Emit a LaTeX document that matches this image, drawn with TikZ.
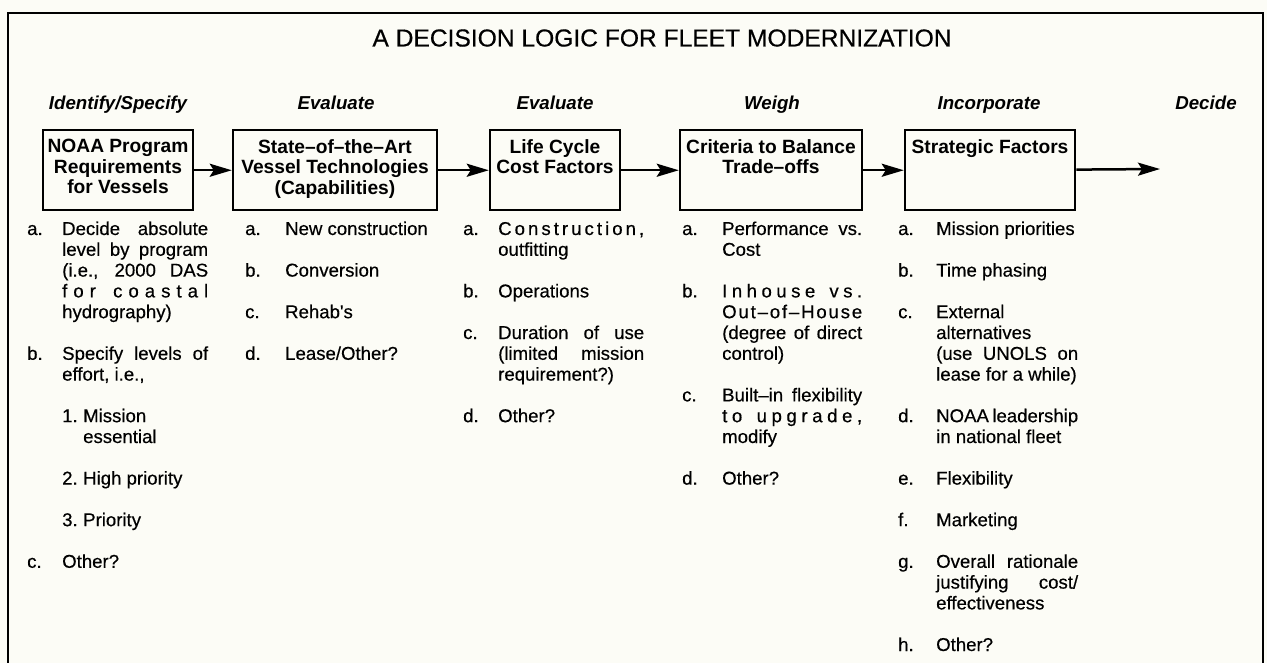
\documentclass[tikz,border=0pt]{standalone}
\usepackage{fontspec}
\setmainfont{Liberation Sans}
\newfontfamily\heavyfont{Liberation Sans}[FakeBold=0.4]
\usetikzlibrary{arrows.meta}
\definecolor{paper}{RGB}{252,252,246}
\newlength\colw
\newcommand\body{\heavyfont\fontsize{18.6}{20.8}\selectfont}
\newcommand\J[1]{\hbox to \colw{#1}}
\newcommand\Ln[1]{\hbox{#1}}
\newcommand\lines[2]{\vtop{\setlength\colw{#1pt}\baselineskip=20.8pt\relax #2}}
\newcommand\boxtext[3]{\parbox[t][#2pt][t]{#1pt}{\centering\fontsize{19.2}{20.5}\selectfont\bfseries\vspace*{9pt}#3}}
\tikzset{
  frame/.style={line width=2.5pt},
  stepbox/.style={draw=black, line width=2.5pt, inner sep=0pt, anchor=north},
  conn/.style={line width=2.5pt, -{Stealth[length=22pt,width=13pt,inset=4pt]}},
  phase/.style={anchor=base, inner sep=0pt, font=\fontsize{18.7}{21}\selectfont\bfseries\itshape},
  lab/.style={anchor=base west, inner sep=0pt, font=\body},
  txt/.style={anchor=base west, inner sep=0pt, font=\body},
  ttl/.style={anchor=base, inner sep=0pt, font=\heavyfont\fontsize{24.6}{28}\selectfont},
}
\begin{document}
\begin{tikzpicture}[x=1pt,y=-1pt]
\useasboundingbox (0,0) rectangle (1267,663);
\fill[paper] (0,0) rectangle (1267,663);
\clip (0,0) rectangle (1267,663);
\draw[frame] (8,700) -- (8,13) -- (1263,13) -- (1263,700);

\node[ttl] (title) at (662,46.5) {A DECISION LOGIC FOR FLEET MODERNIZATION};

\node[phase] (ph1) at (118,110) {Identify/Specify};
\node[phase] (ph2) at (336,110) {Evaluate};
\node[phase] (ph3) at (555,110) {Evaluate};
\node[phase] (ph4) at (772,110) {Weigh};
\node[phase] (ph5) at (989,110) {Incorporate};
\node[phase] (ph6) at (1206,110) {Decide};

\node[stepbox] (b1) at (118,129) {\boxtext{150}{80}{NOAA Program\\Requirements\\for Vessels}};
\node[stepbox] (b2) at (335,129) {\boxtext{204}{80}{State–of–the–Art\\Vessel Technologies\\(Capabilities)}};
\node[stepbox] (b3) at (555,129) {\boxtext{130}{80}{Life Cycle\\Cost Factors}};
\node[stepbox] (b4) at (771,129) {\boxtext{182}{80}{Criteria to Balance\\Trade–offs}};
\node[stepbox] (b5) at (990,129) {\boxtext{170}{80}{Strategic Factors}};
\coordinate (dec) at (1160,169);

\draw[conn] (b1) -- (b2);
\draw[conn] (b2) -- (b3);
\draw[conn] (b3) -- (b4);
\draw[conn] (b4) -- (b5);
\draw[conn] (b5) -- (dec);

% column 1
\node[lab] (l1a) at (27,235) {a.};
\node[txt] (t1a) at (62,235) {\lines{146}{\J{Decide absolute}\J{level by program}\J{(i.e., 2000 DAS}\J{f\hfil o\hfil r\hfil\ \hfil c\hfil o\hfil a\hfil s\hfil t\hfil a\hfil l}\Ln{hydrography)}}};
\node[lab] (l1b) at (27,359.8) {b.};
\node[txt] (t1b) at (62,359.8) {\lines{146}{\J{Specify levels of}\Ln{effort, i.e.,}}};
\node[lab] (n1) at (62,422.2) {1.};
\node[txt] (t1n1) at (83,422.2) {\lines{120}{\Ln{Mission}\Ln{essential}}};
\node[lab] (n2) at (62,484.6) {2.};
\node[txt] (t1n2) at (83,484.6) {High priority};
\node[lab] (n3) at (62,526.2) {3.};
\node[txt] (t1n3) at (83,526.2) {Priority};
\node[lab] (l1c) at (27,567.8) {c.};
\node[txt] (t1c) at (62,567.8) {Other?};

% column 2
\node[lab] (l2a) at (245,235) {a.};
\node[txt] (t2a) at (285,235) {New construction};
\node[lab] (l2b) at (245,276.6) {b.};
\node[txt] (t2b) at (285,276.6) {Conversion};
\node[lab] (l2c) at (245,318.2) {c.};
\node[txt] (t2c) at (285,318.2) {Rehab\textquotesingle s};
\node[lab] (l2d) at (245,359.8) {d.};
\node[txt] (t2d) at (285,359.8) {Lease/Other?};

% column 3
\node[lab] (l3a) at (463,235) {a.};
\node[txt] (t3a) at (498,235) {\lines{146}{\J{C\hfil o\hfil n\hfil s\hfil t\hfil r\hfil u\hfil c\hfil t\hfil i\hfil o\hfil n\hfil ,}\Ln{outfitting}}};
\node[lab] (l3b) at (463,297.4) {b.};
\node[txt] (t3b) at (498,297.4) {Operations};
\node[lab] (l3c) at (463,339) {c.};
\node[txt] (t3c) at (498,339) {\lines{146}{\J{Duration of use}\J{(limited mission}\Ln{requirement?)}}};
\node[lab] (l3d) at (463,422.2) {d.};
\node[txt] (t3d) at (498,422.2) {Other?};

% column 4
\node[lab] (l4a) at (682,235) {a.};
\node[txt] (t4a) at (722,235) {\lines{140}{\J{Performance vs.}\Ln{Cost}}};
\node[lab] (l4b) at (682,297.4) {b.};
\node[txt] (t4b) at (722,297.4) {\lines{140}{\J{I\hfil n\hfil h\hfil o\hfil u\hfil s\hfil e\hfil\ \hfil v\hfil s\hfil .}\J{O\hfil u\hfil t\hfil –\hfil o\hfil f\hfil –\hfil H\hfil o\hfil u\hfil s\hfil e}\J{(degree of direct}\Ln{control)}}};
\node[lab] (l4c) at (682,401.4) {c.};
\node[txt] (t4c) at (722,401.4) {\lines{140}{\J{Built–in flexibility}\J{t\hfil o\hfil\ \hfil u\hfil p\hfil g\hfil r\hfil a\hfil d\hfil e\hfil ,}\Ln{modify}}};
\node[lab] (l4d) at (682,484.6) {d.};
\node[txt] (t4d) at (722,484.6) {Other?};

% column 5
\node[lab] (l5a) at (898,235) {a.};
\node[txt] (t5a) at (936,235) {Mission priorities};
\node[lab] (l5b) at (898,276.6) {b.};
\node[txt] (t5b) at (936,276.6) {Time phasing};
\node[lab] (l5c) at (898,318.2) {c.};
\node[txt] (t5c) at (936,318.2) {\lines{142}{\Ln{External}\Ln{alternatives}\J{(use UNOLS on}\Ln{lease for a while)}}};
\node[lab] (l5d) at (898,422.2) {d.};
\node[txt] (t5d) at (936,422.2) {\lines{142}{\J{NOAA leadership}\Ln{in national fleet}}};
\node[lab] (l5e) at (898,484.6) {e.};
\node[txt] (t5e) at (936,484.6) {Flexibility};
\node[lab] (l5f) at (898,526.2) {f.};
\node[txt] (t5f) at (936,526.2) {Marketing};
\node[lab] (l5g) at (898,567.8) {g.};
\node[txt] (t5g) at (936,567.8) {\lines{142}{\J{Overall rationale}\J{justifying cost/}\Ln{effectiveness}}};
\node[lab] (l5h) at (898,651) {h.};
\node[txt] (t5h) at (936,651) {Other?};
\end{tikzpicture}
\end{document}
